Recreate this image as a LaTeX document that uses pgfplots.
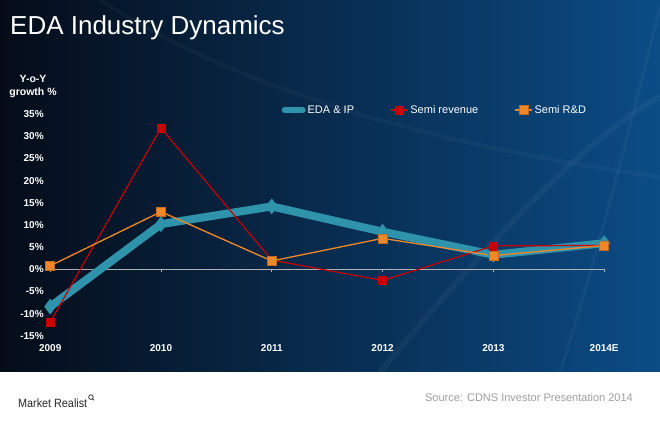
\documentclass[border=0pt]{standalone}
\usepackage{fontspec}
\setmainfont{Liberation Sans}
\newfontfamily\narrow[FakeStretch=0.9]{Liberation Sans}
\usepackage{pgfplots}
\pgfplotsset{compat=1.18}
\definecolor{bgL}{HTML}{050C18}
\definecolor{bgM}{HTML}{05284A}
\definecolor{bgR}{HTML}{0B4C86}
\definecolor{eda}{HTML}{2F93AB}
\definecolor{semirev}{HTML}{C80000}
\definecolor{semird}{HTML}{F0882A}
\pgfplotstableread{
x eda rev rd
0 -8.4 -11.9 0.8
1 10.2 31.9 13.0
2 14.2 2.1 1.9
3 8.5 -2.5 7.0
4 3.3 5.3 3.1
5 5.9 5.4 5.4
}\datatable
\begin{document}
\begin{tikzpicture}[x=1pt,y=1pt]
\fill[white] (0,0) rectangle (660,427);
\shade[left color=bgL, middle color=bgM, right color=bgR] (0,55) rectangle (660,427);
\begin{scope}
\clip (0,55) rectangle (660,427);
\draw[white, opacity=0.04, line width=6pt] (380,55) .. controls (500,200) and (600,300) .. (660,330);
\draw[white, opacity=0.04, line width=3pt] (560,55) .. controls (600,180) and (630,300) .. (660,420);
\draw[white, opacity=0.03, line width=4pt] (100,427) .. controls (250,330) and (450,280) .. (660,250);
\end{scope}
\node[anchor=base west, text=white, font=\fontsize{26}{30}\selectfont, inner sep=0pt] at (10,392) {EDA Industry Dynamics};
\node[align=center, text=white, font=\fontsize{10.5}{13}\bfseries\selectfont] at (33,340) {Y-o-Y\\growth \%};
\begin{axis}[
  at={(50.2pt,91.1pt)}, anchor=south west,
  scale only axis, width=554pt, height=221.7pt,
  xmin=0, xmax=5, ymin=-15, ymax=35,
  clip=false,
  axis line style={draw=none},
  tick style={draw=none},
  xtick={0,...,5},
  xticklabels={2009,2010,2011,2012,2013,2014E},
  ytick={-15,-10,...,35},
  yticklabel={\pgfmathprintnumber{\tick}\%},
  /pgf/number format/assume math mode=true,
  xticklabel style={font=\fontsize{10}{12}\bfseries\selectfont, text=white, yshift=-5pt},
  yticklabel style={font=\fontsize{10}{12}\bfseries\selectfont, text=white, xshift=-3pt},
  legend style={at={(0.412,1.019)}, anchor=west, draw=none, fill=none,
    text=white, font=\fontsize{11}{13}\selectfont, legend columns=3,
    /tikz/every even column/.append style={column sep=34pt}},
  legend cell align=left,
]
\addplot[draw=gray!60, line width=1pt, forget plot] coordinates {(0,0) (5,0)};
\addplot[ycomb, draw=gray!60, line width=0.8pt, mark=none, forget plot] coordinates {(0,-0.7) (1,-0.7) (2,-0.7) (3,-0.7) (4,-0.7) (5,-0.7)};
\addplot[color=eda, line width=8pt, mark=diamond*, mark size=7.5pt, mark options={line width=0.5pt, fill=eda},
  legend image code/.code={\draw[eda, line width=6pt, line cap=round] (0pt,0pt) -- (18pt,0pt);}] table[x=x, y=eda] {\datatable};
\addlegendentry{EDA \& IP}
\addplot[color=semirev, line width=1.2pt, mark=square*, mark size=4pt, mark options={line width=0.5pt, fill=semirev}] table[x=x, y=rev] {\datatable};
\addlegendentry{Semi revenue}
\addplot[color=semird, line width=1.3pt, mark=square*, mark size=4.5pt, mark options={line width=0.5pt, draw=semird!80!black, fill=semird}] table[x=x, y=rd] {\datatable};
\addlegendentry{Semi R\&D}
\end{axis}
\node[anchor=base west, inner sep=0pt, text=black!85, font=\narrow\fontsize{12}{14}\selectfont] (mr) at (18,19) {Market Realist};
\draw[black!85, line width=0.7pt] ([xshift=3.5pt,yshift=2pt]mr.north east) circle (2.3pt);
\draw[black!85, line width=0.9pt] ([xshift=5.2pt,yshift=0.3pt]mr.north east) -- ([xshift=6.6pt,yshift=-1.1pt]mr.north east);
\node[anchor=base east, inner sep=0pt, text=black!38, font=\fontsize{11}{13}\selectfont] at (633,25) {Source: CDNS Investor Presentation 2014};
\end{tikzpicture}
\end{document}
